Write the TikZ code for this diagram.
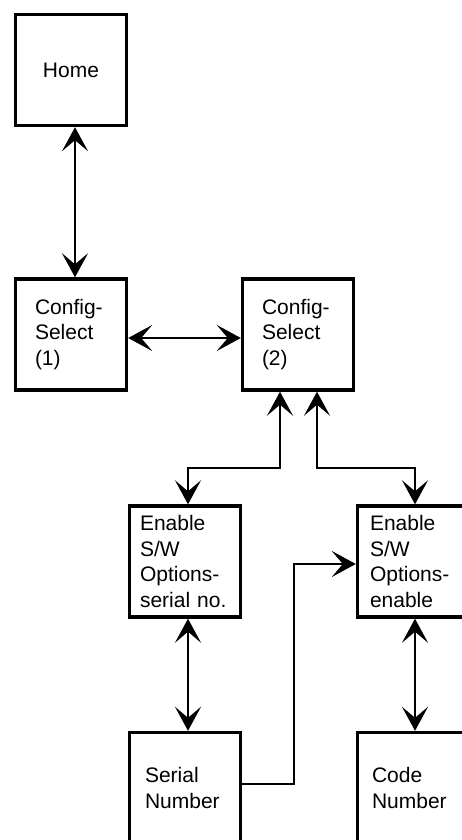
\documentclass[tikz,border=0pt]{standalone}
\usepackage{fontspec}
\setmainfont{Liberation Sans}
\usetikzlibrary{arrows.meta}
\begin{document}
\begin{tikzpicture}[x=1pt,y=-1pt,
  box/.style={draw, line width=3.4pt, minimum width=111pt, minimum height=111pt,
    font=\fontsize{21}{25.8}\selectfont, align=left, inner ysep=0pt},
  both/.style={line width=2.2pt, {Stealth[length=24pt,width=26pt,inset=11pt]}-{Stealth[length=24pt,width=26pt,inset=11pt]}},
  one/.style={line width=2.2pt, -{Stealth[length=24pt,width=26pt,inset=11pt]}}
]
\useasboundingbox (0,0) rectangle (462,840);
\clip (0,0) rectangle (462,840);
\node[box, align=center] (home) at (71,70) {Home};
\node[box, inner xsep=19.5pt, text width=72pt] (cfg1) at (71,334.5) {Config-\\Select\\(1)};
\node[box, inner xsep=19.5pt, text width=72pt] (cfg2) at (298,334.5) {Config-\\Select\\(2)};
\node[box, inner xsep=10.5pt, text width=90pt] (en1) at (185,561.5) {Enable\\S/W\\Options-\\serial no.};
\node[box, inner xsep=12.5pt, text width=86pt] (en2) at (413,561.5) {Enable\\S/W\\Options-\\enable};
\node[box, inner xsep=15.5pt, text width=80pt] (ser) at (185,788) {Serial\\Number};
\node[box, inner xsep=14.5pt, text width=82pt] (code) at (413,788) {Code\\Number};
\coordinate (j1) at (188,468);
\coordinate (j2) at (415,468);
\coordinate (j3) at (294,564);
\draw[both] ([xshift=4pt]home.south) -- ([xshift=4pt]cfg1.north);
\draw[both] ([yshift=-3.5pt]cfg1.east) -- ([yshift=-3.5pt]cfg2.west);
\draw[both] ([xshift=-18pt]cfg2.south) |- (j1) -- ([xshift=3pt]en1.north);
\draw[both] ([xshift=19pt]cfg2.south) |- (j2) -- ([xshift=2pt]en2.north);
\draw[both] ([xshift=3pt]en1.south) -- ([xshift=3pt]ser.north);
\draw[both] ([xshift=2pt]en2.south) -- ([xshift=2pt]code.north);
\draw[one] ([yshift=4pt]ser.east) -| (j3) -- ([yshift=-2.5pt]en2.west);
\end{tikzpicture}
\end{document}
